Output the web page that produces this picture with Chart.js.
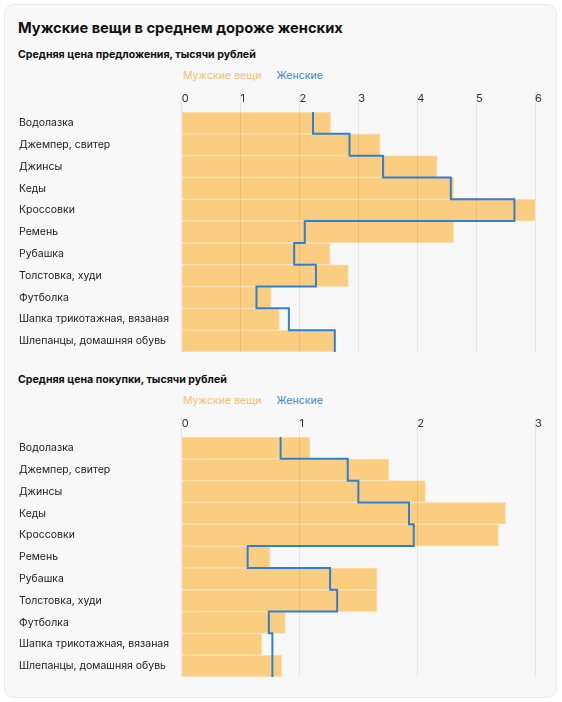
<!DOCTYPE html>
<html lang="ru">
<head>
<meta charset="utf-8">
<script src="https://cdn.jsdelivr.net/npm/chart.js@4/dist/chart.umd.min.js"></script>
<style>
  html, body { margin: 0; padding: 0; background: #fff; }
  body { width: 562px; height: 702px; position: relative; font-family: Inter, "Noto Sans", sans-serif; }
  .card {
    position: absolute; left: 4px; top: 4px; width: 551px; height: 692px;
    background: #f8f8f8; border: 1px solid #ebebeb; border-radius: 10px;
  }
  .title { position: absolute; left: 13px; top: 14px; font-size: 14.7px; font-weight: 700; color: #111; }
  .sub { position: absolute; left: 13px; font-size: 10.6px; font-weight: 700; color: #111; }
  .legend { position: absolute; left: 178px; font-size: 10.6px; }
  .legend span { margin-right: 15px; }
  canvas { position: absolute; left: 0; }
</style>
</head>
<body>
<div class="card">
  <div class="title">Мужские вещи в среднем дороже женских</div>

  <div class="sub" style="top:43px">Средняя цена предложения, тысячи рублей</div>
  <div class="legend" style="top:64px"><span style="color:#f7c06d">Мужские вещи</span><span style="color:#3c87d8">Женские</span></div>
  <div style="position:absolute;left:0;top:81px;width:551px;height:267px"><canvas id="offerChart"></canvas></div>

  <div class="sub" style="top:368px">Средняя цена покупки, тысячи рублей</div>
  <div class="legend" style="top:389px"><span style="color:#f7c06d">Мужские вещи</span><span style="color:#3c87d8">Женские</span></div>
  <div style="position:absolute;left:0;top:406px;width:551px;height:267px"><canvas id="buyChart"></canvas></div>
</div>
<script>
const CATEGORIES = [
    "Водолазка",
    "Джемпер, свитер",
    "Джинсы",
    "Кеды",
    "Кроссовки",
    "Ремень",
    "Рубашка",
    "Толстовка, худи",
    "Футболка",
    "Шапка трикотажная, вязаная",
    "Шлепанцы, домашняя обувь",
];

// средняя цена предложения
const OFFER_MEN = [2.53, 3.37, 4.34, 4.62, 6.09, 4.62, 2.52, 2.83, 1.52, 1.66, 2.61];
const OFFER_WOMEN = [2.23, 2.85, 3.42, 4.57, 5.65, 2.09, 1.91, 2.28, 1.27, 1.82, 2.6];
const OFFER_TICKS_MAX = 6;

// средняя цена покупки
const BUY_MEN = [1.09, 1.76, 2.07, 2.75, 2.69, 0.75, 1.66, 1.66, 0.88, 0.68, 0.85];
const BUY_WOMEN = [0.84, 1.41, 1.5, 1.93, 1.97, 0.56, 1.26, 1.32, 0.74, 0.77, 0.77];
const BUY_TICKS_MAX = 3;

const MEN_COLOR = "#fbcd80";
const WOMEN_COLOR = "#2f80d1";

function stepPoints(values) {
    // вертикальная ступенька на каждую строку
    return values.flatMap((v, i) => [
        { x: v, y: i - 0.5 },
        { x: v, y: i + 0.5 },
    ]);
}

function createStepChart(canvasId, men, women, maxValue) {
    const ctx = document.getElementById(canvasId).getContext("2d");
    return new Chart(ctx, {
        type: "bar",
        data: {
            labels: CATEGORIES,
            datasets: [
                {
                    type: "line",
                    label: "Женские",
                    data: stepPoints(women),
                    indexAxis: "y",
                    xAxisID: "x",
                    yAxisID: "yStep",
                    borderColor: WOMEN_COLOR,
                    borderWidth: 2,
                    pointRadius: 0,
                    fill: false,
                    tension: 0,
                    order: 0,
                },
                {
                    label: "Мужские вещи",
                    data: men,
                    yAxisID: "y",
                    backgroundColor: MEN_COLOR,
                    borderColor: "#fde2b4",
                    borderWidth: 1,
                    barPercentage: 1,
                    categoryPercentage: 1,
                    grouped: false,
                    order: 1,
                },
            ],
        },
        options: {
            indexAxis: "y",
            responsive: true,
            maintainAspectRatio: false,
            animation: false,
            layout: { padding: { left: 14, right: 21, top: 0, bottom: 1 } },
            plugins: {
                legend: { display: false },
                tooltip: { enabled: false },
            },
            scales: {
                x: {
                    position: "top",
                    min: 0,
                    max: maxValue,
                    border: { display: false },
                    grid: {
                        color: "rgba(0,0,0,0.07)",
                        drawTicks: true,
                        tickLength: 19,
                        z: 1,
                    },
                    ticks: {
                        stepSize: 1,
                        align: "start",
                        padding: -12,
                        color: "#333",
                        font: { family: "Inter", size: 11 },
                    },
                    afterFit: function (scale) {
                        scale.height = 26;
                    },
                },
                y: {
                    type: "category",
                    border: { display: false },
                    grid: { display: false },
                    ticks: {
                        crossAlign: "far",
                        color: "#222",
                        font: { family: "Inter", size: 10.5 },
                    },
                    afterFit: function (scale) {
                        scale.width = 162.7;
                        scale.paddingTop = 0;
                        scale.paddingBottom = 0;
                    },
                },
                yStep: {
                    type: "linear",
                    display: false,
                    reverse: true,
                    offset: false,
                    min: -0.5,
                    max: CATEGORIES.length - 0.5,
                },
            },
        },
    });
}

document.addEventListener("DOMContentLoaded", function () {
    createStepChart("offerChart", OFFER_MEN, OFFER_WOMEN, OFFER_TICKS_MAX);
    createStepChart("buyChart", BUY_MEN, BUY_WOMEN, BUY_TICKS_MAX);
});
</script>
</body>
</html>
